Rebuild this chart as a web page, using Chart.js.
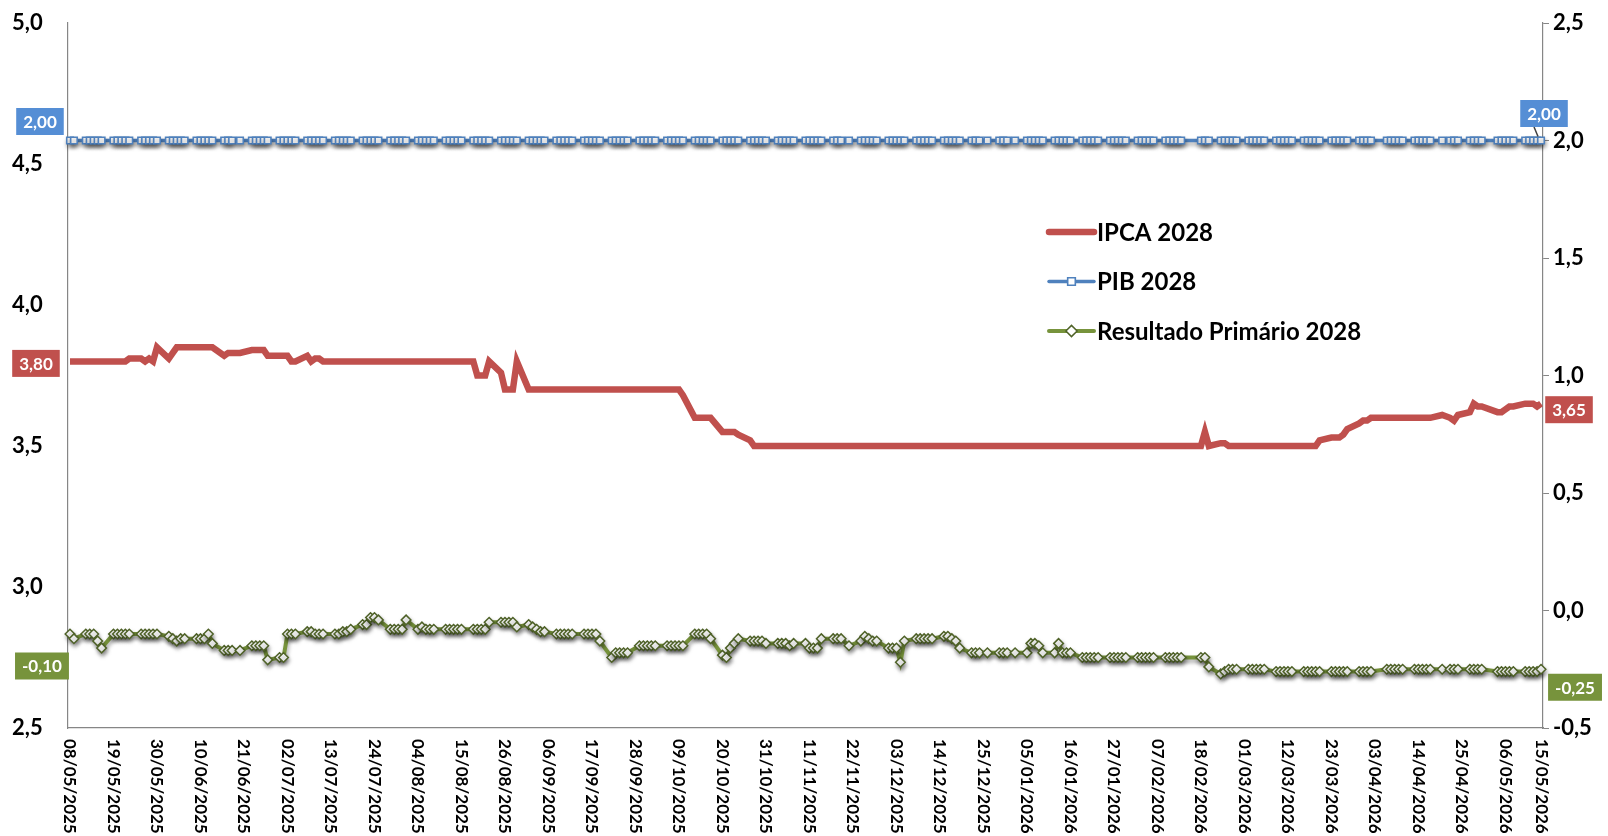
<!DOCTYPE html>
<html lang="pt-BR">
<head>
<meta charset="utf-8">
<title>Expectativas 2028</title>
<script src="https://cdn.jsdelivr.net/npm/chart.js@4.4.1/dist/chart.umd.min.js"></script>
<style>
  html, body { margin: 0; padding: 0; background: #fff; }
  #wrap { width: 1608px; height: 836px; }
</style>
</head>
<body>
<div id="wrap"><canvas id="grafico" width="1608" height="836"></canvas></div>
<script>
// Periodo do grafico e feriados (dias sem boletim)
var inicio = "08/05/2025";
var fim = "15/05/2026";
var feriados = ["19/06/2025", "20/11/2025", "25/12/2025", "01/01/2026", "16/02/2026",
    "17/02/2026", "03/04/2026", "21/04/2026", "01/05/2026"];

var rotulosX = ["08/05/2025", "19/05/2025", "30/05/2025", "10/06/2025", "21/06/2025", "02/07/2025",
    "13/07/2025", "24/07/2025", "04/08/2025", "15/08/2025", "26/08/2025", "06/09/2025", "17/09/2025",
    "28/09/2025", "09/10/2025", "20/10/2025", "31/10/2025", "11/11/2025", "22/11/2025", "03/12/2025",
    "14/12/2025", "25/12/2025", "05/01/2026", "16/01/2026", "27/01/2026", "07/02/2026", "18/02/2026",
    "01/03/2026", "12/03/2026", "23/03/2026", "03/04/2026", "14/04/2026", "25/04/2026", "06/05/2026",
    "15/05/2026"];

// uma linha por semana (seg-sex)
var ipca2028 = [
    3.80, 3.80,
    3.80, 3.80, 3.80, 3.80, 3.80,
    3.80, 3.80, 3.80, 3.80, 3.81,
    3.81, 3.80, 3.81, 3.80, 3.85,
    3.81, 3.83, 3.85, 3.85, 3.85,
    3.85, 3.85, 3.85, 3.85, 3.85,
    3.82, 3.83, 3.83, 3.83,
    3.84, 3.84, 3.84, 3.84, 3.82,
    3.82, 3.82, 3.82, 3.80, 3.80,
    3.82, 3.80, 3.81, 3.81, 3.80,
    3.80, 3.80, 3.80, 3.80, 3.80,
    3.80, 3.80, 3.80, 3.80, 3.80,
    3.80, 3.80, 3.80, 3.80, 3.80,
    3.80, 3.80, 3.80, 3.80, 3.80,
    3.80, 3.80, 3.80, 3.80, 3.80,
    3.80, 3.75, 3.75, 3.75, 3.80,
    3.76, 3.70, 3.70, 3.70, 3.80,
    3.70, 3.70, 3.70, 3.70, 3.70,
    3.70, 3.70, 3.70, 3.70, 3.70,
    3.70, 3.70, 3.70, 3.70, 3.70,
    3.70, 3.70, 3.70, 3.70, 3.70,
    3.70, 3.70, 3.70, 3.70, 3.70,
    3.70, 3.70, 3.70, 3.70, 3.68,
    3.60, 3.60, 3.60, 3.60, 3.60,
    3.55, 3.55, 3.55, 3.55, 3.54,
    3.52, 3.50, 3.50, 3.50, 3.50,
    3.50, 3.50, 3.50, 3.50, 3.50,
    3.50, 3.50, 3.50, 3.50, 3.50,
    3.50, 3.50, 3.50, 3.50,
    3.50, 3.50, 3.50, 3.50, 3.50,
    3.50, 3.50, 3.50, 3.50, 3.50,
    3.50, 3.50, 3.50, 3.50, 3.50,
    3.50, 3.50, 3.50, 3.50, 3.50,
    3.50, 3.50, 3.50, 3.50,
    3.50, 3.50, 3.50, 3.50,
    3.50, 3.50, 3.50, 3.50, 3.50,
    3.50, 3.50, 3.50, 3.50, 3.50,
    3.50, 3.50, 3.50, 3.50, 3.50,
    3.50, 3.50, 3.50, 3.50, 3.50,
    3.50, 3.50, 3.50, 3.50, 3.50,
    3.50, 3.50, 3.50, 3.50, 3.50,
    3.50, 3.55, 3.50,
    3.51, 3.51, 3.50, 3.50, 3.50,
    3.50, 3.50, 3.50, 3.50, 3.50,
    3.50, 3.50, 3.50, 3.50, 3.50,
    3.50, 3.50, 3.50, 3.50, 3.52,
    3.53, 3.53, 3.53, 3.54, 3.56,
    3.58, 3.59, 3.59, 3.60,
    3.60, 3.60, 3.60, 3.60, 3.60,
    3.60, 3.60, 3.60, 3.60, 3.60,
    3.61, 3.60, 3.59, 3.61,
    3.62, 3.65, 3.64, 3.64,
    3.62, 3.62, 3.63, 3.64, 3.64,
    3.65, 3.65, 3.65, 3.64, 3.65
];

var pib2028 = [
    2.00, 2.00,
    2.00, 2.00, 2.00, 2.00, 2.00,
    2.00, 2.00, 2.00, 2.00, 2.00,
    2.00, 2.00, 2.00, 2.00, 2.00,
    2.00, 2.00, 2.00, 2.00, 2.00,
    2.00, 2.00, 2.00, 2.00, 2.00,
    2.00, 2.00, 2.00, 2.00,
    2.00, 2.00, 2.00, 2.00, 2.00,
    2.00, 2.00, 2.00, 2.00, 2.00,
    2.00, 2.00, 2.00, 2.00, 2.00,
    2.00, 2.00, 2.00, 2.00, 2.00,
    2.00, 2.00, 2.00, 2.00, 2.00,
    2.00, 2.00, 2.00, 2.00, 2.00,
    2.00, 2.00, 2.00, 2.00, 2.00,
    2.00, 2.00, 2.00, 2.00, 2.00,
    2.00, 2.00, 2.00, 2.00, 2.00,
    2.00, 2.00, 2.00, 2.00, 2.00,
    2.00, 2.00, 2.00, 2.00, 2.00,
    2.00, 2.00, 2.00, 2.00, 2.00,
    2.00, 2.00, 2.00, 2.00, 2.00,
    2.00, 2.00, 2.00, 2.00, 2.00,
    2.00, 2.00, 2.00, 2.00, 2.00,
    2.00, 2.00, 2.00, 2.00, 2.00,
    2.00, 2.00, 2.00, 2.00, 2.00,
    2.00, 2.00, 2.00, 2.00, 2.00,
    2.00, 2.00, 2.00, 2.00, 2.00,
    2.00, 2.00, 2.00, 2.00, 2.00,
    2.00, 2.00, 2.00, 2.00, 2.00,
    2.00, 2.00, 2.00, 2.00,
    2.00, 2.00, 2.00, 2.00, 2.00,
    2.00, 2.00, 2.00, 2.00, 2.00,
    2.00, 2.00, 2.00, 2.00, 2.00,
    2.00, 2.00, 2.00, 2.00, 2.00,
    2.00, 2.00, 2.00, 2.00,
    2.00, 2.00, 2.00, 2.00,
    2.00, 2.00, 2.00, 2.00, 2.00,
    2.00, 2.00, 2.00, 2.00, 2.00,
    2.00, 2.00, 2.00, 2.00, 2.00,
    2.00, 2.00, 2.00, 2.00, 2.00,
    2.00, 2.00, 2.00, 2.00, 2.00,
    2.00, 2.00, 2.00, 2.00, 2.00,
    2.00, 2.00, 2.00,
    2.00, 2.00, 2.00, 2.00, 2.00,
    2.00, 2.00, 2.00, 2.00, 2.00,
    2.00, 2.00, 2.00, 2.00, 2.00,
    2.00, 2.00, 2.00, 2.00, 2.00,
    2.00, 2.00, 2.00, 2.00, 2.00,
    2.00, 2.00, 2.00, 2.00,
    2.00, 2.00, 2.00, 2.00, 2.00,
    2.00, 2.00, 2.00, 2.00, 2.00,
    2.00, 2.00, 2.00, 2.00,
    2.00, 2.00, 2.00, 2.00,
    2.00, 2.00, 2.00, 2.00, 2.00,
    2.00, 2.00, 2.00, 2.00, 2.00
];

var primario2028 = [
    -0.10, -0.12,
    -0.10, -0.10, -0.10, -0.13, -0.16,
    -0.10, -0.10, -0.10, -0.10, -0.10,
    -0.10, -0.10, -0.10, -0.10, -0.10,
    -0.11, -0.12, -0.13, -0.12, -0.12,
    -0.12, -0.12, -0.12, -0.10, -0.14,
    -0.17, -0.17, -0.17, -0.17,
    -0.15, -0.15, -0.15, -0.15, -0.21,
    -0.20, -0.20, -0.10, -0.10, -0.10,
    -0.09, -0.09, -0.10, -0.10, -0.10,
    -0.10, -0.10, -0.09, -0.09, -0.08,
    -0.06, -0.06, -0.03, -0.03, -0.04,
    -0.08, -0.08, -0.08, -0.08, -0.04,
    -0.08, -0.07, -0.08, -0.08, -0.08,
    -0.08, -0.08, -0.08, -0.08, -0.08,
    -0.08, -0.08, -0.08, -0.08, -0.05,
    -0.05, -0.05, -0.05, -0.05, -0.07,
    -0.06, -0.07, -0.08, -0.09, -0.09,
    -0.10, -0.10, -0.10, -0.10, -0.10,
    -0.10, -0.10, -0.10, -0.10, -0.13,
    -0.20, -0.18, -0.18, -0.18, -0.18,
    -0.15, -0.15, -0.15, -0.15, -0.15,
    -0.15, -0.15, -0.15, -0.15, -0.15,
    -0.10, -0.10, -0.10, -0.10, -0.12,
    -0.19, -0.20, -0.16, -0.14, -0.12,
    -0.13, -0.13, -0.13, -0.13, -0.14,
    -0.14, -0.14, -0.14, -0.15, -0.14,
    -0.14, -0.16, -0.16, -0.16, -0.12,
    -0.12, -0.12, -0.12, -0.15,
    -0.13, -0.11, -0.12, -0.13, -0.13,
    -0.16, -0.16, -0.16, -0.22, -0.13,
    -0.12, -0.12, -0.12, -0.12, -0.12,
    -0.11, -0.11, -0.12, -0.13, -0.16,
    -0.18, -0.18, -0.18, -0.18,
    -0.18, -0.18, -0.18, -0.18,
    -0.18, -0.14, -0.14, -0.15, -0.18,
    -0.18, -0.14, -0.18, -0.18, -0.18,
    -0.20, -0.20, -0.20, -0.20, -0.20,
    -0.20, -0.20, -0.20, -0.20, -0.20,
    -0.20, -0.20, -0.20, -0.20, -0.20,
    -0.20, -0.20, -0.20, -0.20, -0.20,
    -0.20, -0.20, -0.24,
    -0.27, -0.26, -0.25, -0.25, -0.25,
    -0.25, -0.25, -0.25, -0.25, -0.25,
    -0.26, -0.26, -0.26, -0.26, -0.26,
    -0.26, -0.26, -0.26, -0.26, -0.26,
    -0.26, -0.26, -0.26, -0.26, -0.26,
    -0.26, -0.26, -0.26, -0.26,
    -0.25, -0.25, -0.25, -0.25, -0.25,
    -0.25, -0.25, -0.25, -0.25, -0.25,
    -0.25, -0.25, -0.25, -0.25,
    -0.25, -0.25, -0.25, -0.25,
    -0.26, -0.26, -0.26, -0.26, -0.26,
    -0.26, -0.26, -0.26, -0.26, -0.25
];

// datas -> dias corridos desde o inicio
var DIA = 86400000;
function lerData(s) {
    var p = s.split("/");
    return Date.UTC(+p[2], +p[1] - 1, +p[0]);
}
var t0 = lerData(inicio);
function diaDe(s) { return Math.round((lerData(s) - t0) / DIA); }
var diasFeriado = feriados.map(diaDe);

var diasUteis = [];
for (var t = t0; t <= lerData(fim); t += DIA) {
    var wd = new Date(t).getUTCDay();
    var d = Math.round((t - t0) / DIA);
    if (wd === 0 || wd === 6 || diasFeriado.indexOf(d) >= 0) continue;
    diasUteis.push(d);
}
if (diasUteis.length !== ipca2028.length || ipca2028.length !== pib2028.length || pib2028.length !== primario2028.length) {
    console.warn("tamanhos", diasUteis.length, ipca2028.length, pib2028.length, primario2028.length);
}
function serie(vals) {
    return vals.map(function (v, i) { return { x: diasUteis[i], y: v }; });
}
function virgula(v, casas) { return v.toFixed(casas).replace(".", ","); }

var FONTE = "Lato, 'Open Sans', sans-serif";

// sombra das linhas com marcador (efeito do Excel)
var sombra = {
    id: "sombra",
    beforeDatasetDraw: function (chart, args) {
        if (!chart.data.datasets[args.index].sombra) return;
        var ctx = chart.ctx;
        ctx.save();
        ctx.shadowColor = "rgba(0,0,0,0.35)";
        ctx.shadowBlur = 4;
        ctx.shadowOffsetX = 1;
        ctx.shadowOffsetY = 3;
    },
    afterDatasetDraw: function (chart, args) {
        if (chart.data.datasets[args.index].sombra) chart.ctx.restore();
    }
};

// rotulos do primeiro e do ultimo ponto
var rotulosPontas = {
    id: "rotulosPontas",
    afterDatasetsDraw: function (chart) {
        var ctx = chart.ctx;
        chart.data.datasets.forEach(function (ds, i) {
            var pts = chart.getDatasetMeta(i).data;
            [[0, ds.rotuloIni], [pts.length - 1, ds.rotuloFim]].forEach(function (par) {
                var p = pts[par[0]], o = par[1];
                var txt = virgula(ds.data[par[0]].y, 2);
                ctx.save();
                ctx.font = "bold 17px " + FONTE;
                var w = ctx.measureText(txt).width + 14, h = 27;
                var cx = p.x + o[0], cy = p.y + o[1];
                if (o[2]) {
                    ctx.strokeStyle = "#404040";
                    ctx.lineWidth = 1.5;
                    ctx.beginPath();
                    ctx.moveTo(cx - 10, cy + h / 2);
                    ctx.lineTo(p.x - 3, p.y - 4);
                    ctx.stroke();
                }
                ctx.fillStyle = ds.corRotulo;
                ctx.fillRect(cx - w / 2, cy - h / 2, w, h);
                ctx.fillStyle = "#fff";
                ctx.textAlign = "center";
                ctx.textBaseline = "middle";
                ctx.fillText(txt, cx, cy + 1);
                ctx.restore();
            });
        });
    }
};

// datas do eixo x, escritas de cima para baixo
var eixoDatas = {
    id: "eixoDatas",
    afterDraw: function (chart) {
        var ctx = chart.ctx, sx = chart.scales.x;
        ctx.save();
        ctx.font = "bold 17px " + FONTE;
        ctx.fillStyle = "#000";
        ctx.textAlign = "left";
        ctx.textBaseline = "middle";
        rotulosX.forEach(function (r) {
            var x = sx.getPixelForValue(diaDe(r));
            ctx.save();
            ctx.translate(x, chart.chartArea.bottom + 11);
            ctx.rotate(Math.PI / 2);
            ctx.fillText(r, 0, 0);
            ctx.restore();
        });
        ctx.restore();
    }
};

// legenda dentro da area do grafico
var legenda = {
    id: "legenda",
    afterDraw: function (chart) {
        var ctx = chart.ctx;
        chart.data.datasets.forEach(function (ds, i) {
            var y = 232 + i * 49.5, x0 = 1049, x1 = 1094;
            ctx.save();
            ctx.strokeStyle = ds.borderColor;
            ctx.lineWidth = ds.borderWidth;
            ctx.lineCap = "round";
            ctx.beginPath();
            ctx.moveTo(x0, y);
            ctx.lineTo(x1, y);
            ctx.stroke();
            if (ds.pointRadius > 0) {
                ctx.fillStyle = ds.pointBackgroundColor;
                ctx.strokeStyle = ds.pointBorderColor;
                ctx.lineWidth = ds.pointBorderWidth;
                Chart.helpers.drawPoint(ctx, {
                    pointStyle: ds.pointStyle, radius: ds.pointRadius + 0.8,
                    borderWidth: ds.pointBorderWidth, rotation: 0
                }, (x0 + x1) / 2, y);
            }
            ctx.fillStyle = "#000";
            ctx.font = "bold 24px " + FONTE;
            ctx.textAlign = "left";
            ctx.textBaseline = "middle";
            ctx.fillText(ds.label, x1 + 3, y + 1);
            ctx.restore();
        });
    }
};

var fonteEixo = { family: FONTE, size: 22, weight: "bold" };

new Chart("grafico", {
    type: "line",
    data: {
        datasets: [{
            label: "IPCA 2028",
            data: serie(ipca2028),
            yAxisID: "y",
            borderColor: "#C0504D",
            borderWidth: 6.5,
            pointRadius: 0,
            corRotulo: "#C0504D",
            rotuloIni: [-34, 2],
            rotuloFim: [28, 6]
        }, {
            label: "PIB 2028",
            data: serie(pib2028),
            yAxisID: "y2",
            borderColor: "#4F81BD",
            borderWidth: 3.5,
            pointStyle: "rect",
            pointRadius: 4.6,
            pointBorderWidth: 1.6,
            pointBackgroundColor: "#fff",
            pointBorderColor: "#4F81BD",
            sombra: true,
            corRotulo: "#558ED5",
            rotuloIni: [-30, -19],
            rotuloFim: [3, -27, true]
        }, {
            label: "Resultado Primário 2028",
            data: serie(primario2028),
            yAxisID: "y2",
            borderColor: "#77933C",
            borderWidth: 4,
            pointStyle: "rectRot",
            pointRadius: 4.8,
            pointBorderWidth: 1.5,
            pointBackgroundColor: "#fff",
            pointBorderColor: "#4F6228",
            sombra: true,
            corRotulo: "#77933C",
            rotuloIni: [-28, 32],
            rotuloFim: [34, 18]
        }]
    },
    options: {
        responsive: false,
        animation: false,
        events: [],
        clip: false,
        elements: { line: { tension: 0 } },
        layout: { padding: { top: 23, bottom: 108, left: 12, right: 0 } },
        plugins: {
            legend: { display: false },
            tooltip: { enabled: false }
        },
        scales: {
            x: {
                type: "linear",
                min: -0.5,
                max: 372.5,
                ticks: { display: false },
                grid: { display: false, drawTicks: false },
                border: { display: true, color: "#868686", width: 1.2 },
                afterFit: function (s) { s.height = 0; }
            },
            y: {
                position: "left",
                min: 2.5,
                max: 5.0,
                ticks: {
                    stepSize: 0.5, padding: 0, crossAlign: "far", color: "#000", font: fonteEixo,
                    callback: function (v) { return virgula(v, 1); }
                },
                grid: { display: false, drawTicks: false },
                border: { display: true, color: "#868686", width: 1.2 },
                afterFit: function (s) { s.width = 56; }
            },
            y2: {
                position: "right",
                min: -0.5,
                max: 2.5,
                ticks: {
                    stepSize: 0.5, padding: 4, color: "#000", font: fonteEixo,
                    callback: function (v) { return virgula(v, 1); }
                },
                grid: { display: true, drawOnChartArea: false, drawTicks: true, tickLength: 6, color: "#868686" },
                border: { display: true, color: "#868686", width: 1.2 },
                afterFit: function (s) { s.width = 65; }
            }
        }
    },
    plugins: [sombra, rotulosPontas, eixoDatas, legenda]
});
</script>
</body>
</html>
